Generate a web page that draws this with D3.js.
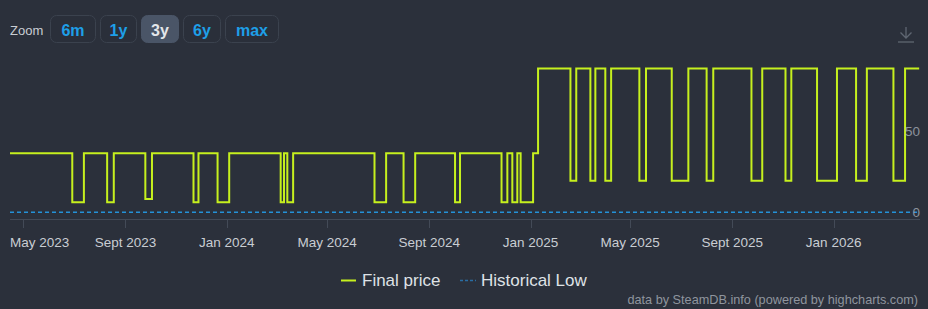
<!DOCTYPE html>
<html>
<head>
<meta charset="utf-8">
<script src="https://cdn.jsdelivr.net/npm/d3@7"></script>
<style>
  html, body { margin: 0; padding: 0; background: #2b303b; }
  svg { display: block; font-family: "Liberation Sans", Arial, Helvetica, sans-serif; }
</style>
</head>
<body>
<div id="chart"></div>
<script>
// price changes (date the price changed, new price)
const priceDates = [
  "2023-04-15", "2023-06-29", "2023-07-13", "2023-08-10", "2023-08-18",
  "2023-09-25", "2023-10-03", "2023-11-22", "2023-11-28", "2023-12-21",
  "2024-01-04", "2024-03-06", "2024-03-10", "2024-03-14", "2024-03-21",
  "2024-06-27", "2024-07-11", "2024-08-01", "2024-08-15", "2024-10-02",
  "2024-10-08", "2024-11-27", "2024-12-04", "2024-12-10", "2024-12-16",
  "2024-12-20", "2025-01-04", "2025-01-10", "2025-02-18", "2025-02-25",
  "2025-03-14", "2025-03-20", "2025-04-01", "2025-04-08", "2025-05-12",
  "2025-05-20", "2025-06-20", "2025-07-10", "2025-08-01", "2025-08-09",
  "2025-09-24", "2025-10-07", "2025-11-04", "2025-11-11", "2025-12-12",
  "2026-01-05", "2026-01-28", "2026-02-10", "2026-03-14", "2026-03-28",
  "2026-04-14"
];
const priceValues = [
  36.5, 6.2, 36.5, 6.2, 36.5,
  8.2, 36.5, 6.2, 36.5, 6.2,
  36.5, 6.2, 36.5, 6.2, 36.5,
  6.2, 36.5, 6.2, 36.5, 6.2,
  36.5, 6.2, 36.5, 6.2, 36.5,
  6.2, 36.5, 88.99, 19.6, 88.99,
  19.6, 88.99, 19.6, 88.99, 19.6,
  88.99, 19.6, 88.99, 19.6, 88.99,
  19.6, 88.99, 19.6, 88.99, 19.6,
  88.99, 19.6, 88.99, 19.6, 88.99,
  88.99
];
const lowDates = ["2023-04-15", "2026-04-14"];
const lowValues = [0, 0];

const tickDates = ["2023-05-01", "2023-09-01", "2024-01-01", "2024-05-01", "2024-09-01",
                   "2025-01-01", "2025-05-01", "2025-09-01", "2026-01-01"];
const tickLabels = ["May 2023", "Sept 2023", "Jan 2024", "May 2024", "Sept 2024",
                    "Jan 2025", "May 2025", "Sept 2025", "Jan 2026"];
const yTicks = [0, 50];

const zoomButtons = ["6m", "1y", "3y", "6y", "max"];
const selectedZoom = "3y";
const legendItems = ["Final price", "Historical Low"];

const width = 928, height = 309;
const parse = d3.utcParse("%Y-%m-%d");

const svg = d3.select("#chart").append("svg")
  .attr("width", width)
  .attr("height", height);

const x = d3.scaleUtc()
  .domain([parse("2023-04-15"), parse("2026-04-15")])
  .range([10, 920]);

const y = d3.scaleLinear()
  .domain([0, 100])
  .range([212.3, 50.7]);

// zoom selector
svg.append("text")
  .attr("x", 10).attr("y", 34.5)
  .attr("fill", "#c9cdd3")
  .attr("font-size", 13)
  .text("Zoom");

const buttonWidths = [46, 37, 38, 38, 54];
let bx = 50;
zoomButtons.forEach((label, i) => {
  const w = buttonWidths[i];
  const g = svg.append("g");
  g.append("rect")
    .attr("x", bx + 0.5).attr("y", 15.5)
    .attr("width", w - 1).attr("height", 27)
    .attr("rx", 6)
    .attr("fill", label === selectedZoom ? "#4a5567" : "#2a2f3a")
    .attr("stroke", label === selectedZoom ? "#4a5567" : "#3b424e");
  g.append("text")
    .attr("x", bx + w / 2)
    .attr("y", 35.5)
    .attr("text-anchor", "middle")
    .attr("font-size", 16)
    .attr("font-weight", "bold")
    .attr("fill", label === selectedZoom ? "#e3e6ea" : "#1e9fe8")
    .text(label);
  bx += w + 4;
});

// download icon
const icon = svg.append("g")
  .attr("stroke", "#5f6672").attr("stroke-width", 1.3).attr("fill", "none");
icon.append("path").attr("d", "M906,27 V38 M900.5,32.5 L906,38 L911.5,32.5");
icon.append("path").attr("d", "M898,42 H914");

// x axis line and ticks
svg.append("line")
  .attr("x1", 10).attr("x2", 920)
  .attr("y1", 219.5).attr("y2", 219.5)
  .attr("stroke", "#434a57");

const ticks = tickDates.map(parse);
svg.selectAll(".tick")
  .data(ticks)
  .enter().append("line")
  .attr("x1", d => Math.round(x(d)) + 0.5)
  .attr("x2", d => Math.round(x(d)) + 0.5)
  .attr("y1", 219.5).attr("y2", 228)
  .attr("stroke", "#434a57");

svg.selectAll(".xlabel")
  .data(ticks)
  .enter().append("text")
  .attr("font-size", 13.5)
  .attr("fill", "#c9cdd3")
  .attr("y", 246.5)
  .attr("text-anchor", "middle")
  .attr("x", d => x(d))
  .text((d, i) => tickLabels[i])
  .each(function(d) {
    // keep the first label inside the plot, like highcharts does
    const w = this.getComputedTextLength();
    if (x(d) - w / 2 < 10) d3.select(this).attr("x", 10 + w / 2);
  });

// historical low
const lowData = lowDates.map((d, i) => ({ date: parse(d), value: lowValues[i] }));
svg.append("path")
  .datum(lowData)
  .attr("fill", "none")
  .attr("stroke", "#2491d8")
  .attr("stroke-width", 1.5)
  .attr("stroke-dasharray", "4,3")
  .attr("d", d3.line().x(d => x(d.date)).y(d => y(d.value)));

// final price step line
const priceData = priceDates.map((d, i) => ({ date: parse(d), value: priceValues[i] }));
const priceLine = d3.line()
  .curve(d3.curveStepAfter)
  .x(d => x(d.date))
  .y(d => y(d.value));

svg.append("path")
  .datum(priceData)
  .attr("fill", "none")
  .attr("stroke", "#c6f01e")
  .attr("stroke-width", 2)
  .attr("d", priceLine);

// y axis labels (inside plot, right side)
svg.selectAll(".ylabel")
  .data(yTicks)
  .enter().append("text")
  .attr("x", 920)
  .attr("y", d => y(d) + 4.5)
  .attr("text-anchor", "end")
  .attr("font-size", 13.5)
  .attr("fill", "#8c929b")
  .text(d => d);

// legend
const legend = svg.append("g");
legend.append("line")
  .attr("x1", 341).attr("x2", 356).attr("y1", 280.5).attr("y2", 280.5)
  .attr("stroke", "#c6f01e").attr("stroke-width", 2);
legend.append("text")
  .attr("x", 362).attr("y", 285.5)
  .attr("font-size", 17).attr("fill", "#dfe2e6")
  .text(legendItems[0]);
legend.append("line")
  .attr("x1", 460).attr("x2", 476).attr("y1", 280.5).attr("y2", 280.5)
  .attr("stroke", "#2a6da3").attr("stroke-width", 1.5)
  .attr("stroke-dasharray", "3,2");
legend.append("text")
  .attr("x", 481).attr("y", 285.5)
  .attr("font-size", 17).attr("fill", "#dfe2e6")
  .text(legendItems[1]);

// credits
svg.append("text")
  .attr("x", 918).attr("y", 304)
  .attr("text-anchor", "end")
  .attr("font-size", 12.7)
  .attr("fill", "#8f959e")
  .text("data by SteamDB.info (powered by highcharts.com)");
</script>
</body>
</html>
